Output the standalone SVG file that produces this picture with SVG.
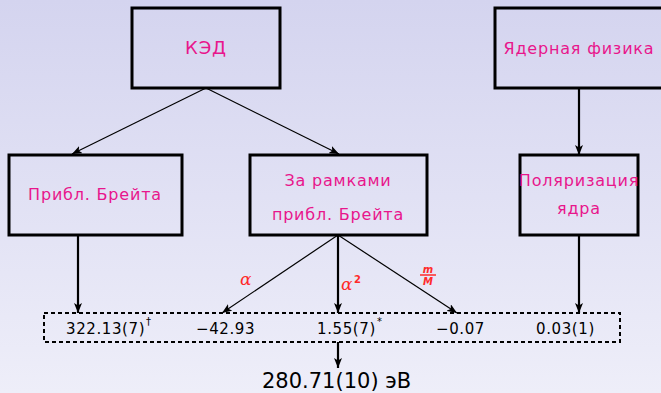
<svg xmlns="http://www.w3.org/2000/svg" width="661" height="393" viewBox="0 0 661 393">
<defs>
<linearGradient id="bg" x1="0" y1="0" x2="0" y2="1">
<stop offset="0" stop-color="#d4d4ef"/>
<stop offset="1" stop-color="#eeeef9"/>
</linearGradient>
<marker id="ah" markerUnits="userSpaceOnUse" markerWidth="10" markerHeight="8" refX="10" refY="4" orient="auto">
<path d="M0,0 L10,4 L0,8 L2.5,4 Z" fill="#000"/>
</marker>
</defs>
<style>
.box{fill:none;stroke:#000;stroke-width:3}
.lbl{font-family:"DejaVu Sans",sans-serif;font-size:16px;fill:#e8168c;letter-spacing:0.8px;text-anchor:middle}
.val{font-family:"DejaVu Sans",sans-serif;font-size:15px;fill:#000;letter-spacing:0.6px}
.sup{font-family:"DejaVu Sans",sans-serif;font-size:10px;fill:#000}
.thin{stroke:#000;stroke-width:1.2;fill:none}
.thick{stroke:#000;stroke-width:2.2;fill:none}
.red{fill:#ff2a2a}
</style>
<rect width="661" height="393" fill="url(#bg)"/>
<g id="qed"><rect class="box" x="132" y="8" width="148" height="80"/><text class="lbl" x="206" y="54" style="font-size:18px">КЭД</text></g>
<g id="nuc"><rect class="box" x="495" y="8" width="175" height="80"/><text class="lbl" x="579" y="54">Ядерная физика</text></g>
<g id="breit"><rect class="box" x="9" y="155" width="173" height="80"/><text class="lbl" x="95" y="200">Прибл. Брейта</text></g>
<g id="beyond"><rect class="box" x="250" y="155" width="177" height="80"/><text class="lbl" x="338" y="186">За рамками</text><text class="lbl" x="338" y="220">прибл. Брейта</text></g>
<g id="pol"><rect class="box" x="520" y="155" width="118" height="80"/><text class="lbl" x="579" y="186">Поляризация</text><text class="lbl" x="579" y="214">ядра</text></g>
<g id="sum"><rect x="44" y="313" width="576" height="29" fill="none" stroke="#000" stroke-width="2" stroke-dasharray="4,3"/>
<text class="val" x="66" y="334">322.13(7)</text><text class="sup" x="146" y="325">†</text>
<text class="val" x="196" y="334">−42.93</text>
<text class="val" x="317" y="334">1.55(7)</text><text class="sup" x="377" y="325">*</text>
<text class="val" x="436" y="334">−0.07</text>
<text class="val" x="536" y="334">0.03(1)</text>
</g>
<g id="result"><text x="262" y="388" font-family="DejaVu Sans,sans-serif" font-size="21" fill="#000">280.71(10) эВ</text></g>
<g id="connectors">
<line class="thin" x1="206" y1="88" x2="72" y2="154" marker-end="url(#ah)"/>
<line class="thin" x1="206" y1="88" x2="339" y2="154" marker-end="url(#ah)"/>
<line class="thick" x1="579" y1="88" x2="579" y2="155" marker-end="url(#ah)"/>
<line class="thick" x1="78" y1="235" x2="78" y2="313" marker-end="url(#ah)"/>
<line class="thick" x1="579" y1="235" x2="579" y2="313" marker-end="url(#ah)"/>
<line class="thin" x1="338" y1="235" x2="222" y2="313" marker-end="url(#ah)"/>
<line class="thick" x1="338" y1="235" x2="338" y2="313" marker-end="url(#ah)"/>
<line class="thin" x1="338" y1="235" x2="457" y2="313" marker-end="url(#ah)"/>
<line class="thick" x1="338" y1="342" x2="338" y2="368" marker-end="url(#ah)"/>
<text class="red" x="240" y="285" font-family="DejaVu Serif,serif" font-style="italic" font-size="17">α</text>
<text class="red" x="341" y="290" font-family="DejaVu Serif,serif" font-style="italic" font-size="17">α</text>
<text class="red" x="354" y="283" font-family="DejaVu Sans,sans-serif" font-weight="bold" font-size="10">2</text>
<text class="red" x="428" y="273" font-family="DejaVu Sans,sans-serif" font-weight="bold" font-style="italic" font-size="10" text-anchor="middle">m</text>
<line x1="420" y1="275" x2="436" y2="275" stroke="#ff2a2a" stroke-width="1.5"/>
<text class="red" x="428" y="285" font-family="DejaVu Sans,sans-serif" font-weight="bold" font-style="italic" font-size="10" text-anchor="middle">M</text>
</g>
</svg>
